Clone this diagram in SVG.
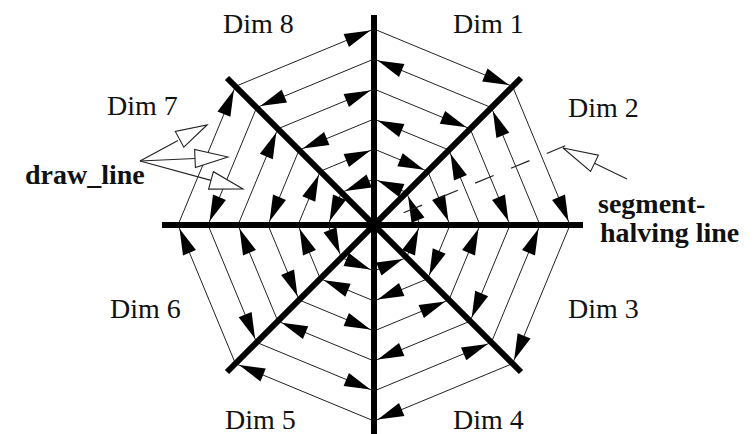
<svg xmlns="http://www.w3.org/2000/svg" width="754" height="434" viewBox="0 0 754 434">
<style>
.ring{stroke:#222;stroke-width:1;fill:none;marker-end:url(#ah)}
.axis{stroke:#000;stroke-width:6;stroke-linecap:butt}
.lbl{font-family:"Liberation Serif","Times New Roman",serif;font-size:28px;fill:#111}
.bold{font-weight:bold}
.ptr{stroke:#222;stroke-width:1.1;fill:none}
.open{fill:#fff;stroke:#222;stroke-width:1.1}
.half{stroke:#222;stroke-width:1.2;stroke-dasharray:20 18.75;fill:none}
</style>
<defs>
<marker id="ah" markerUnits="userSpaceOnUse" markerWidth="30" markerHeight="14" refX="30" refY="7" orient="auto" overflow="visible">
<path d="M0,0 L26,7 L0,14 z" fill="#000"/>
</marker>
</defs>
<rect width="754" height="434" fill="#fff"/>
<g id="connectors">
<g id="ring1">
<line class="ring" x1="374" y1="29" x2="512.59" y2="86.41"/>
<line class="ring" x1="512.59" y1="86.41" x2="570" y2="225"/>
<line class="ring" x1="570" y1="225" x2="512.59" y2="363.59"/>
<line class="ring" x1="512.59" y1="363.59" x2="374" y2="421"/>
<line class="ring" x1="374" y1="421" x2="235.41" y2="363.59"/>
<line class="ring" x1="235.41" y1="363.59" x2="178" y2="225"/>
<line class="ring" x1="178" y1="225" x2="235.41" y2="86.41"/>
<line class="ring" x1="235.41" y1="86.41" x2="374" y2="29"/>
</g>
<g id="ring2">
<line class="ring" x1="374" y1="59" x2="256.62" y2="107.62"/>
<line class="ring" x1="256.62" y1="107.62" x2="208" y2="225"/>
<line class="ring" x1="208" y1="225" x2="256.62" y2="342.38"/>
<line class="ring" x1="256.62" y1="342.38" x2="374" y2="391"/>
<line class="ring" x1="374" y1="391" x2="491.38" y2="342.38"/>
<line class="ring" x1="491.38" y1="342.38" x2="540" y2="225"/>
<line class="ring" x1="540" y1="225" x2="491.38" y2="107.62"/>
<line class="ring" x1="491.38" y1="107.62" x2="374" y2="59"/>
</g>
<g id="ring3">
<line class="ring" x1="374" y1="89" x2="470.17" y2="128.83"/>
<line class="ring" x1="470.17" y1="128.83" x2="510" y2="225"/>
<line class="ring" x1="510" y1="225" x2="470.17" y2="321.17"/>
<line class="ring" x1="470.17" y1="321.17" x2="374" y2="361"/>
<line class="ring" x1="374" y1="361" x2="277.83" y2="321.17"/>
<line class="ring" x1="277.83" y1="321.17" x2="238" y2="225"/>
<line class="ring" x1="238" y1="225" x2="277.83" y2="128.83"/>
<line class="ring" x1="277.83" y1="128.83" x2="374" y2="89"/>
</g>
<g id="ring4">
<line class="ring" x1="374" y1="119" x2="299.05" y2="150.05"/>
<line class="ring" x1="299.05" y1="150.05" x2="268" y2="225"/>
<line class="ring" x1="268" y1="225" x2="299.05" y2="299.95"/>
<line class="ring" x1="299.05" y1="299.95" x2="374" y2="331"/>
<line class="ring" x1="374" y1="331" x2="448.95" y2="299.95"/>
<line class="ring" x1="448.95" y1="299.95" x2="480" y2="225"/>
<line class="ring" x1="480" y1="225" x2="448.95" y2="150.05"/>
<line class="ring" x1="448.95" y1="150.05" x2="374" y2="119"/>
</g>
<g id="ring5">
<line class="ring" x1="374" y1="149" x2="427.74" y2="171.26"/>
<line class="ring" x1="427.74" y1="171.26" x2="450" y2="225"/>
<line class="ring" x1="450" y1="225" x2="427.74" y2="278.74"/>
<line class="ring" x1="427.74" y1="278.74" x2="374" y2="301"/>
<line class="ring" x1="374" y1="301" x2="320.26" y2="278.74"/>
<line class="ring" x1="320.26" y1="278.74" x2="298" y2="225"/>
<line class="ring" x1="298" y1="225" x2="320.26" y2="171.26"/>
<line class="ring" x1="320.26" y1="171.26" x2="374" y2="149"/>
</g>
<g id="ring6">
<line class="ring" x1="374" y1="179" x2="341.47" y2="192.47"/>
<line class="ring" x1="341.47" y1="192.47" x2="328" y2="225"/>
<line class="ring" x1="328" y1="225" x2="341.47" y2="257.53"/>
<line class="ring" x1="341.47" y1="257.53" x2="374" y2="271"/>
<line class="ring" x1="374" y1="271" x2="406.53" y2="257.53"/>
<line class="ring" x1="406.53" y1="257.53" x2="420" y2="225"/>
<line class="ring" x1="420" y1="225" x2="406.53" y2="192.47"/>
<line class="ring" x1="406.53" y1="192.47" x2="374" y2="179"/>
</g>
<line id="segment-halving" class="half" x1="403.56" y1="212.75" x2="565.25" y2="145.78"/>
</g>
<g id="axes">
<line class="axis" x1="374" y1="15" x2="374" y2="434"/>
<line class="axis" x1="162" y1="225" x2="583" y2="225"/>
<line class="axis" x1="227" y1="78" x2="521" y2="372"/>
<line class="axis" x1="227" y1="372" x2="521" y2="78"/>
</g>
<g id="pointers">
<line class="ptr" x1="140" y1="161" x2="178" y2="140.5"/>
<polygon class="open" points="207,125 183.8,147.2 175.3,131.4"/>
<line class="ptr" x1="140" y1="161" x2="195" y2="158.5"/>
<polygon class="open" points="228,157 195.4,167.5 194.6,149.5"/>
<line class="ptr" x1="140" y1="161" x2="211" y2="180.4"/>
<polygon class="open" points="243,189 208.6,189.1 213.4,171.7"/>
<line class="ptr" x1="627" y1="179" x2="594.5" y2="163.3"/>
<polygon class="open" points="563,148 598.4,155.2 590.6,171.4"/>
</g>
<g id="labels">
<text id="dim1" class="lbl" x="453" y="33">Dim 1</text>
<text id="dim2" class="lbl" x="568" y="117">Dim 2</text>
<text id="dim3" class="lbl" x="568" y="318">Dim 3</text>
<text id="dim4" class="lbl" x="453" y="429">Dim 4</text>
<text id="dim5" class="lbl" x="225" y="429">Dim 5</text>
<text id="dim6" class="lbl" x="110" y="318">Dim 6</text>
<text id="dim7" class="lbl" x="107" y="115">Dim 7</text>
<text id="dim8" class="lbl" x="223" y="33">Dim 8</text>
<text id="draw-line" class="lbl bold" x="25" y="184">draw_line</text>
<text id="seg-half" class="lbl bold" x="598" y="213">segment-</text>
<text id="seg-half2" class="lbl bold" x="600" y="242">halving line</text>
</g>
</svg>
